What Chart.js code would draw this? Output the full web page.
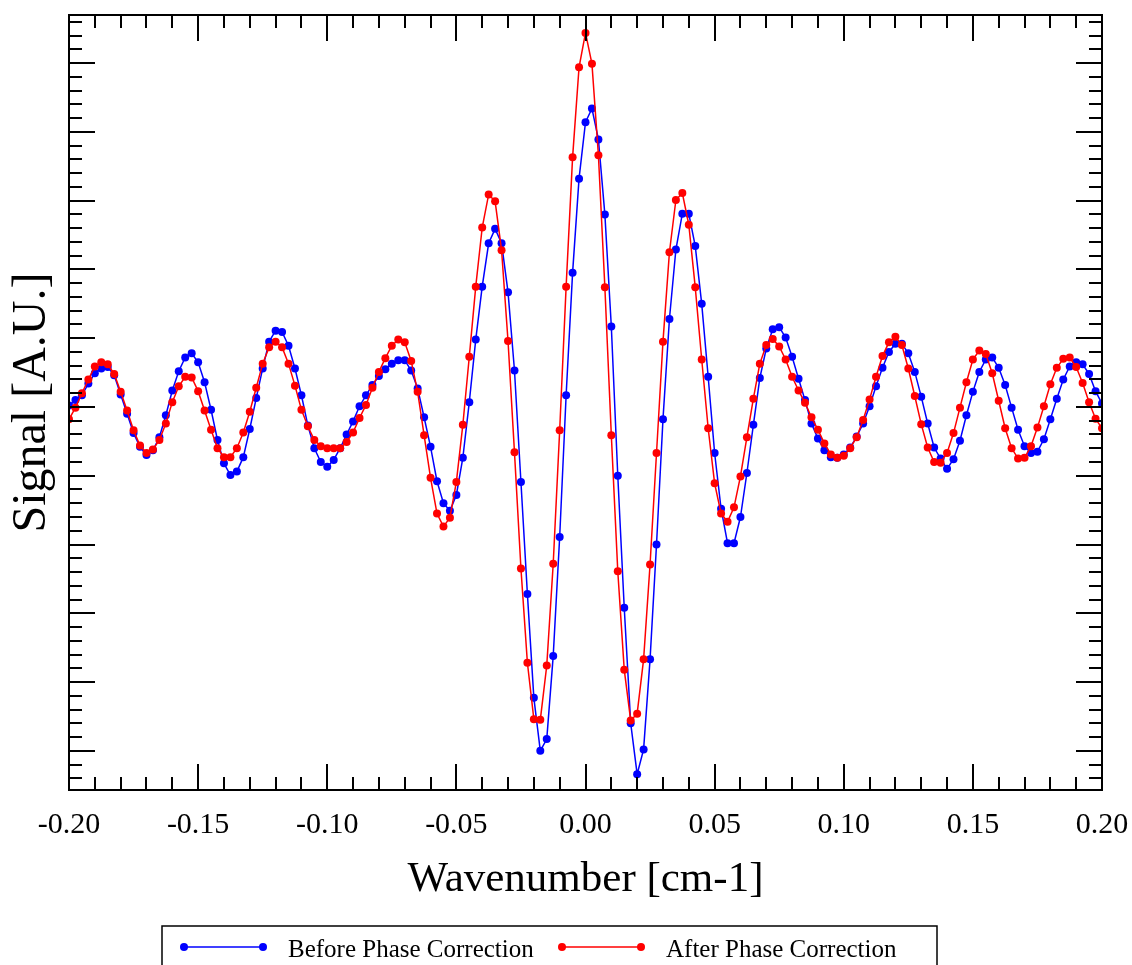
<!DOCTYPE html>
<html>
<head>
<meta charset="utf-8">
<title>Phase Correction</title>
<script src="https://cdn.jsdelivr.net/npm/chart.js@4.4.1/dist/chart.umd.min.js"></script>
<style>
  html, body { margin: 0; padding: 0; background: #fff; }
  #wrap { width: 1132px; height: 965px; }
</style>
</head>
<body>
<div id="wrap"><canvas id="chart" width="1132" height="965"></canvas></div>
<script>
// Sumbu x: bilangan gelombang [cm-1]
const wavenumber = [
  -0.2000, -0.1975, -0.1950, -0.1925, -0.1900, -0.1875, -0.1850, -0.1825, -0.1800, -0.1775,
  -0.1750, -0.1725, -0.1700, -0.1675, -0.1650, -0.1625, -0.1600, -0.1575, -0.1550, -0.1525,
  -0.1500, -0.1475, -0.1450, -0.1425, -0.1400, -0.1375, -0.1350, -0.1325, -0.1300, -0.1275,
  -0.1250, -0.1225, -0.1200, -0.1175, -0.1150, -0.1125, -0.1100, -0.1075, -0.1050, -0.1025,
  -0.1000, -0.0975, -0.0950, -0.0925, -0.0900, -0.0875, -0.0850, -0.0825, -0.0800, -0.0775,
  -0.0750, -0.0725, -0.0700, -0.0675, -0.0650, -0.0625, -0.0600, -0.0575, -0.0550, -0.0525,
  -0.0500, -0.0475, -0.0450, -0.0425, -0.0400, -0.0375, -0.0350, -0.0325, -0.0300, -0.0275,
  -0.0250, -0.0225, -0.0200, -0.0175, -0.0150, -0.0125, -0.0100, -0.0075, -0.0050, -0.0025,
   0.0000,  0.0025,  0.0050,  0.0075,  0.0100,  0.0125,  0.0150,  0.0175,  0.0200,  0.0225,
   0.0250,  0.0275,  0.0300,  0.0325,  0.0350,  0.0375,  0.0400,  0.0425,  0.0450,  0.0475,
   0.0500,  0.0525,  0.0550,  0.0575,  0.0600,  0.0625,  0.0650,  0.0675,  0.0700,  0.0725,
   0.0750,  0.0775,  0.0800,  0.0825,  0.0850,  0.0875,  0.0900,  0.0925,  0.0950,  0.0975,
   0.1000,  0.1025,  0.1050,  0.1075,  0.1100,  0.1125,  0.1150,  0.1175,  0.1200,  0.1225,
   0.1250,  0.1275,  0.1300,  0.1325,  0.1350,  0.1375,  0.1400,  0.1425,  0.1450,  0.1475,
   0.1500,  0.1525,  0.1550,  0.1575,  0.1600,  0.1625,  0.1650,  0.1675,  0.1700,  0.1725,
   0.1750,  0.1775,  0.1800,  0.1825,  0.1850,  0.1875,  0.1900,  0.1925,  0.1950,  0.1975,
   0.2000
];

// Sinyal sebelum koreksi fase (biru)
const beforeCorrection = [
   0.02,  0.10,  0.17,  0.34,  0.49,  0.56,  0.58,  0.46,  0.18, -0.10,
  -0.38, -0.58, -0.70, -0.63, -0.44, -0.12,  0.24,  0.52,  0.72,  0.78,
   0.65,  0.36, -0.04, -0.48, -0.82, -0.99, -0.94, -0.73, -0.32,  0.13,
   0.56,  0.95,  1.11,  1.09,  0.89,  0.56,  0.17, -0.27, -0.60, -0.80,
  -0.87, -0.77, -0.60, -0.40, -0.21,  0.01,  0.17,  0.32,  0.45,  0.55,
   0.63,  0.68,  0.68,  0.53,  0.27, -0.15, -0.58, -1.08, -1.40, -1.51,
  -1.28, -0.74,  0.07,  0.98,  1.75,  2.38,  2.59,  2.38,  1.67,  0.53,
  -1.09, -2.72, -4.23, -5.00, -4.83, -3.62, -1.89,  0.17,  1.95,  3.32,
   4.14,  4.34,  3.89,  2.80,  1.17, -1.00, -2.92, -4.60, -5.34, -4.98,
  -3.67, -2.00, -0.18,  1.28,  2.29,  2.81,  2.81,  2.34,  1.50,  0.44,
  -0.67, -1.48, -1.98, -1.98, -1.60, -0.96, -0.26,  0.42,  0.85,  1.13,
   1.16,  1.01,  0.73,  0.41,  0.10, -0.24, -0.46, -0.63, -0.73, -0.74,
  -0.69, -0.59, -0.43, -0.24,  0.01,  0.30,  0.57,  0.80,  0.92,  0.92,
   0.78,  0.51,  0.15, -0.24, -0.59, -0.75, -0.90, -0.76, -0.49, -0.12,
   0.22,  0.51,  0.69,  0.72,  0.57,  0.32, -0.01, -0.33, -0.57, -0.67,
  -0.65, -0.47, -0.18,  0.12,  0.40,  0.59,  0.65,  0.62,  0.48,  0.23,
   0.05
];

// Sinyal sesudah koreksi fase (merah)
const afterCorrection = [
  -0.18, -0.01,  0.20,  0.40,  0.59,  0.65,  0.62,  0.48,  0.22, -0.05,
  -0.34, -0.56, -0.67, -0.62, -0.48, -0.24,  0.07,  0.30,  0.44,  0.43,
   0.23, -0.05, -0.33, -0.60, -0.73, -0.73, -0.60, -0.37, -0.07,  0.28,
   0.63,  0.87,  0.95,  0.87,  0.63,  0.31, -0.04, -0.28, -0.48, -0.57,
  -0.60, -0.60, -0.60, -0.51, -0.37, -0.16,  0.03,  0.28,  0.51,  0.71,
   0.89,  0.98,  0.94,  0.67,  0.22, -0.41, -1.03, -1.55, -1.74, -1.61,
  -1.09, -0.26,  0.73,  1.75,  2.61,  3.09,  2.99,  2.28,  0.96, -0.66,
  -2.35, -3.72, -4.54, -4.55, -3.76, -2.28, -0.34,  1.75,  3.63,  4.94,
   5.44,  4.99,  3.66,  1.74, -0.41, -2.39, -3.82, -4.56, -4.46, -3.67,
  -2.29, -0.67,  0.95,  2.25,  3.01,  3.11,  2.65,  1.74,  0.69, -0.31,
  -1.11, -1.55, -1.67, -1.46, -1.01, -0.44,  0.12,  0.63,  0.90,  0.99,
   0.88,  0.69,  0.44,  0.24,  0.06, -0.15, -0.33, -0.53, -0.69, -0.74,
  -0.71, -0.60, -0.44, -0.19,  0.11,  0.44,  0.74,  0.94,  1.02,  0.90,
   0.56,  0.16, -0.25, -0.59, -0.80, -0.81, -0.67, -0.38, -0.01,  0.36,
   0.69,  0.82,  0.77,  0.49,  0.09, -0.31, -0.60, -0.75, -0.74, -0.57,
  -0.30,  0.01,  0.33,  0.57,  0.70,  0.72,  0.58,  0.35,  0.07, -0.17,
  -0.31
];

const seriesNames = ['Before Phase Correction', 'After Phase Correction'];
const seriesColors = ['#0000ff', '#ff0000'];
const xRange = [-0.2, 0.2];
const yRange = [-5.57, 5.70];

Chart.defaults.font.family = "'Liberation Serif', 'Times New Roman', serif";
Chart.defaults.color = '#000';

// Bingkai + tick ke arah dalam di keempat sisi
const frameTicks = {
  id: 'frameTicks',
  afterDatasetsDraw(chart) {
    const { ctx, chartArea: a, scales: { x, y } } = chart;
    ctx.save();
    ctx.strokeStyle = '#000';
    ctx.lineWidth = 2;
    ctx.beginPath();
    for (let i = -20; i <= 20; i++) {
      const px = Math.round(x.getPixelForValue(i / 100));
      const len = i % 5 === 0 ? 26 : 13;
      ctx.moveTo(px, a.bottom); ctx.lineTo(px, a.bottom - len);
      ctx.moveTo(px, a.top); ctx.lineTo(px, a.top + len);
    }
    for (let i = -30; i <= 30; i++) {
      const v = i / 5;
      if (v < y.min || v > y.max) continue;
      const py = Math.round(y.getPixelForValue(v));
      const len = i % 5 === 0 ? 26 : 13;
      ctx.moveTo(a.left, py); ctx.lineTo(a.left + len, py);
      ctx.moveTo(a.right, py); ctx.lineTo(a.right - len, py);
    }
    ctx.stroke();
    ctx.strokeRect(a.left, a.top, a.right - a.left, a.bottom - a.top);
    ctx.restore();
  }
};

// Legenda dalam kotak di bawah grafik
const boxLegend = {
  id: 'boxLegend',
  afterDraw(chart) {
    const { ctx } = chart;
    const lineStart = [184, 562];
    ctx.save();
    ctx.strokeStyle = '#000';
    ctx.lineWidth = 1.5;
    ctx.strokeRect(162, 926, 775, 60);
    chart.data.datasets.forEach((ds, i) => {
      const x0 = lineStart[i], x1 = x0 + 79, yy = 947;
      ctx.strokeStyle = ds.borderColor;
      ctx.fillStyle = ds.borderColor;
      ctx.lineWidth = 1.5;
      ctx.beginPath(); ctx.moveTo(x0, yy); ctx.lineTo(x1, yy); ctx.stroke();
      [x0, x1].forEach(px => { ctx.beginPath(); ctx.arc(px, yy, 4, 0, Math.PI * 2); ctx.fill(); });
      ctx.fillStyle = '#000';
      ctx.font = "25px 'Liberation Serif', serif";
      ctx.textBaseline = 'alphabetic';
      ctx.fillText(ds.label, x0 + 104, 957);
    });
    ctx.restore();
  }
};

const makeSeries = (values, i) => ({
  label: seriesNames[i],
  data: wavenumber.map((w, j) => ({ x: w, y: values[j] })),
  borderColor: seriesColors[i],
  backgroundColor: seriesColors[i],
  borderWidth: 1.5,
  pointRadius: 4,
  pointBorderWidth: 0,
  pointBackgroundColor: seriesColors[i],
  tension: 0,
  order: 1 - i
});

const phaseChart = new Chart(document.getElementById('chart'), {
  type: 'line',
  data: {
    datasets: [makeSeries(beforeCorrection, 0), makeSeries(afterCorrection, 1)]
  },
  options: {
    responsive: false,
    animation: false,
    devicePixelRatio: 1,
    layout: { padding: { left: 0, top: 15, right: 30, bottom: 55 } },
    plugins: { legend: { display: false }, tooltip: { enabled: false } },
    scales: {
      x: {
        type: 'linear',
        min: xRange[0],
        max: xRange[1],
        grid: { display: false, drawTicks: false },
        border: { display: false },
        ticks: {
          stepSize: 0.05,
          padding: 17,
          maxRotation: 0,
          autoSkip: false,
          font: { size: 30 },
          callback: v => (Math.abs(v) < 1e-9 ? 0 : v).toFixed(2)
        },
        title: { display: true, text: 'Wavenumber [cm-1]', font: { size: 43 }, padding: { top: 0, bottom: 4 } },
        afterFit: s => { s.height = 120; s.paddingLeft = 0; s.paddingRight = 0; }
      },
      y: {
        type: 'linear',
        min: yRange[0],
        max: yRange[1],
        grid: { display: false, drawTicks: false },
        border: { display: false },
        ticks: { display: false },
        title: { display: true, text: 'Signal [A.U.]', font: { size: 48 }, padding: { top: 4, bottom: 0 } },
        afterFit: s => { s.width = 69; }
      }
    }
  },
  plugins: [frameTicks, boxLegend]
});
</script>
</body>
</html>
